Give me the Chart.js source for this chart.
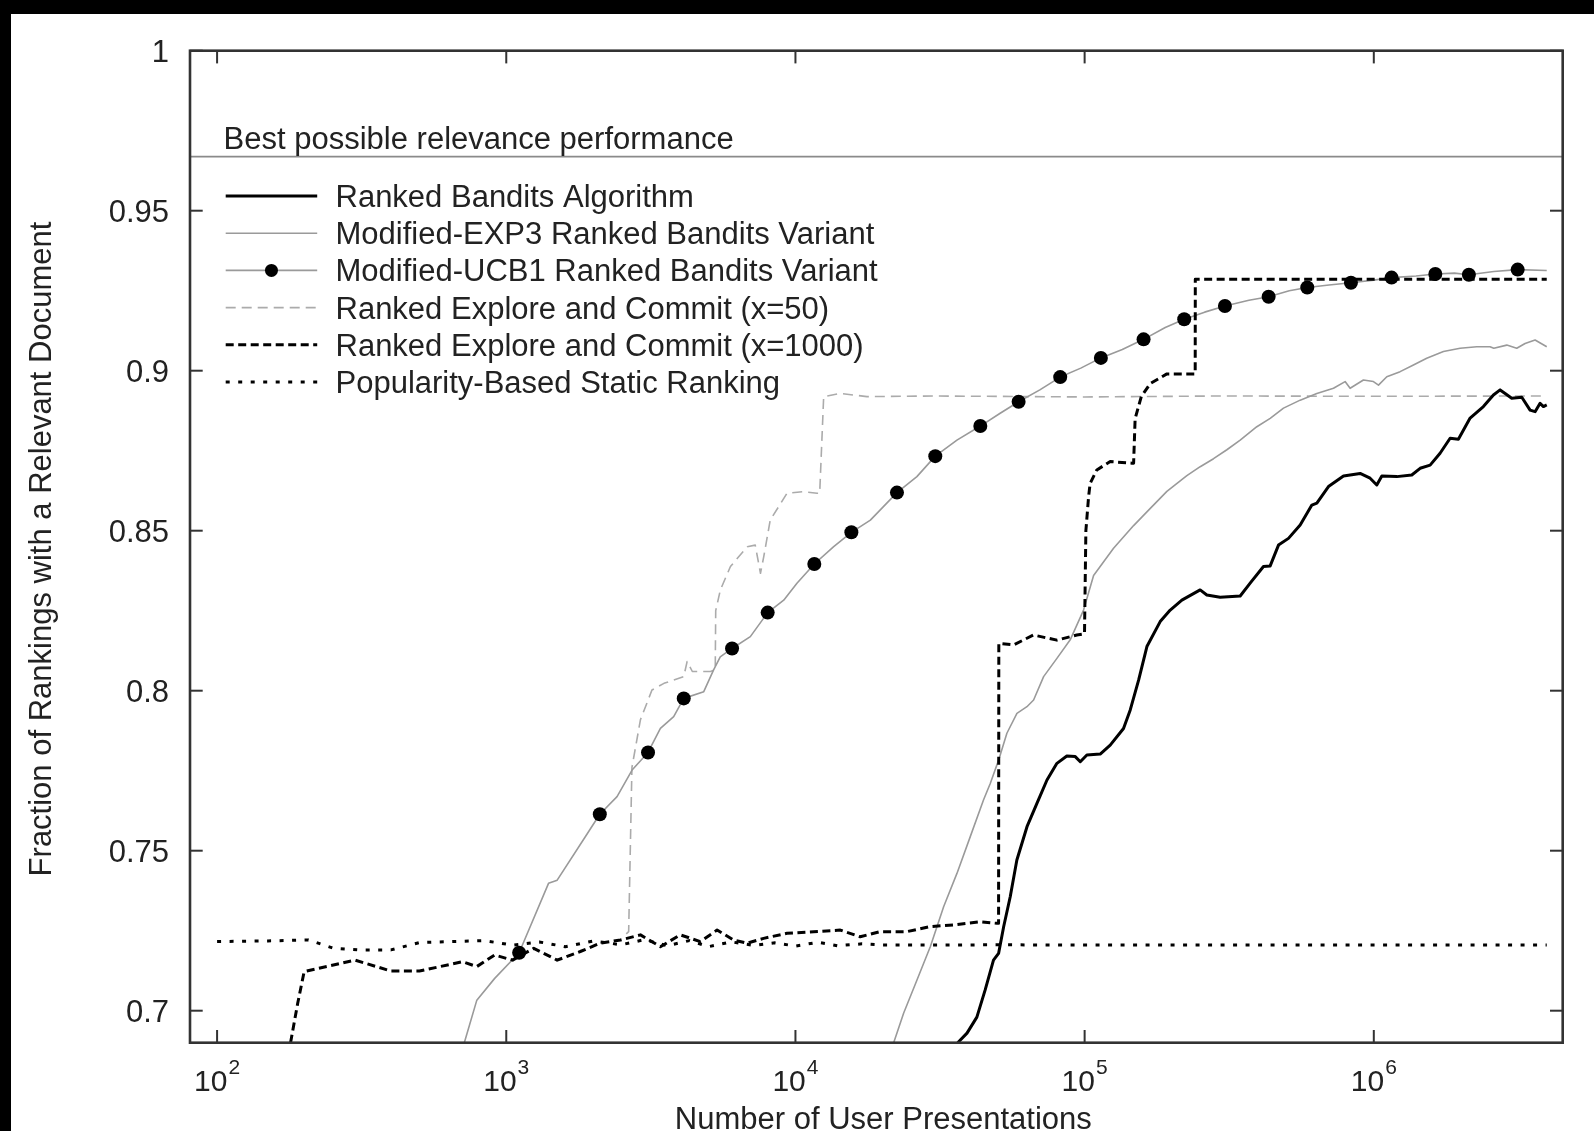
<!DOCTYPE html>
<html>
<head>
<meta charset="utf-8">
<script src="https://cdn.jsdelivr.net/npm/chart.js@4.4.1/dist/chart.umd.min.js"></script>
<style>
html,body{margin:0;padding:0;background:#000;overflow:hidden;width:1594px;height:1131px}
#c{position:absolute;left:11px;top:14px;background:#fff}
</style>
</head>
<body>
<canvas id="c" width="1583" height="1117"></canvas>
<script>
// axis ranges and ticks
const X_MIN=80.6, X_MAX=4.5e6, Y_MIN=0.69, Y_MAX=1.0;
const xTicks=[1e2,1e3,1e4,1e5,1e6];
const xExp=['2','3','4','5','6'];
const yTicks=[0.7,0.75,0.8,0.85,0.9,0.95,1];
const yTickLabels=['0.7','0.75','0.8','0.85','0.9','0.95','1'];
const BEST=0.9669;

const seriesNames=['Ranked Bandits Algorithm','Modified-EXP3 Ranked Bandits Variant','Modified-UCB1 Ranked Bandits Variant',
  'Ranked Explore and Commit (x=50)','Ranked Explore and Commit (x=1000)','Popularity-Based Static Ranking'];

// Ranked Bandits Algorithm
const rbX=[36400,39200,42400,45300,48400,50400,52500,55300,58300,63200,68400,74100,80200,86800,92800,96600,101800,113200,122600,136300,143800,153700,164200,182500,197700,216900,250900,264600,294200,345100,373600,415400,438200,468200,506900,556400,610600,635400,697000,785600,896700,971000,1024000,1066000,1201000,1353000,1446000,1566000,1695000,1836000,1961000,2153000,2393000,2592000,2734000,2845000,2999000,3249000,3471000,3612000,3758000,3860000,3963000];
const rbY=[0.690,0.693,0.698,0.7065,0.7158,0.7179,0.7263,0.7356,0.7471,0.7575,0.7648,0.7721,0.7773,0.7796,0.7794,0.7778,0.7799,0.7802,0.7830,0.7882,0.7940,0.8033,0.8138,0.8216,0.8252,0.8283,0.8315,0.8299,0.8292,0.8296,0.8336,0.8388,0.8390,0.8455,0.8476,0.8518,0.8580,0.8586,0.8638,0.8671,0.8679,0.8664,0.8643,0.8671,0.8669,0.8674,0.8695,0.8705,0.8742,0.8789,0.8786,0.8852,0.8888,0.8924,0.8940,0.8929,0.8914,0.8917,0.8877,0.8872,0.8898,0.8888,0.8893];

// Modified-EXP3
const exp3X=[21860,23660,26320,29260,32540,36180,40230,44730,47170,50410,53850,58330,63170,66610,72140,80200,89160,99150,107400,125900,147700,164200,192500,225700,251000,279100,310400,345100,394000,438200,487200,556400,635400,725400,795700,828100,920700,997000,1038000,1109000,1233000,1371000,1524000,1741000,1988000,2270000,2523000,2600000,2883000,3121000,3335000,3612000,3963000];
const exp3Y=[0.690,0.6992,0.7096,0.7200,0.7325,0.7429,0.7544,0.7659,0.7710,0.7783,0.7867,0.7929,0.7950,0.7971,0.8044,0.8101,0.8159,0.8252,0.8360,0.8445,0.8516,0.8559,0.8623,0.8672,0.8700,0.8725,0.8753,0.8783,0.8825,0.8851,0.8883,0.8908,0.8929,0.8945,0.8966,0.8945,0.8971,0.8966,0.8955,0.8981,0.8997,0.9018,0.9039,0.9060,0.9070,0.9075,0.9075,0.9070,0.9080,0.9070,0.9085,0.9096,0.9075];

// Modified-UCB1 line and its markers
const ucbX=[716,791,912,1108,1400,1500,1862,2106,2416,2723,3092,3412,3793,4109,4819,5212,5495,6037,6982,8017,9108,10120,11620,13560,15610,18160,22440,26300,30450,36180,43580,51050,59120,70000,82330,97000,113800,135000,159900,190000,221000,260000,305600,370000,432800,510000,588700,700000,833600,1000000,1152000,1400000,1632000,1900000,2132000,2600000,3144000,3963000];
const ucbY=[0.690,0.7033,0.7101,0.7181,0.7398,0.7408,0.7539,0.7614,0.7669,0.7752,0.7807,0.7882,0.7919,0.7976,0.7997,0.8065,0.8106,0.8132,0.8169,0.8244,0.8283,0.8336,0.8396,0.8450,0.8495,0.8533,0.8619,0.8669,0.8733,0.8783,0.8827,0.8867,0.8903,0.8940,0.8980,0.9008,0.9040,0.9066,0.9098,0.9135,0.9161,0.9183,0.9202,0.9220,0.9231,0.9250,0.9260,0.9268,0.9275,0.9283,0.9291,0.9296,0.9302,0.9305,0.9300,0.9310,0.9316,0.9313];
const ucbMarkX=[1108,2106,3092,4109,6037,8017,11620,15610,22440,30450,43580,59120,82330,113800,159900,221000,305600,432800,588700,833600,1152000,1632000,2132000,3144000];
const ucbMarkY=[0.7181,0.7614,0.7807,0.7976,0.8132,0.8244,0.8396,0.8495,0.8619,0.8733,0.8827,0.8903,0.8980,0.9040,0.9098,0.9161,0.9202,0.9231,0.9260,0.9275,0.9291,0.9302,0.9300,0.9316];

// Ranked Explore and Commit (x=50)
const ec50X=[2600,2650,2720,2910,3190,3510,4110,4220,4400,5080,5280,5300,5500,5960,6810,7260,7570,7770,8180,9350,10670,11880,12130,12520,14290,17660,30000,100000,300000,1000000,3963000];
const ec50Y=[0.7240,0.7247,0.7760,0.7909,0.8002,0.8023,0.8044,0.8091,0.8060,0.8060,0.8065,0.8250,0.8315,0.8388,0.8450,0.8455,0.8367,0.8419,0.8533,0.8617,0.8622,0.8617,0.8617,0.8919,0.8929,0.8919,0.8921,0.8918,0.8921,0.8920,0.8921];

// Ranked Explore and Commit (x=1000)
const ec1000X=[179.5,190,200,300,399,501,706,791,912,1052,1245,1500,1803,2113,2483,2911,3412,4000,4688,5358,6109,6808,7762,9354,11560,14290,16750,19630,24270,29240,35240,43550,49770,50400,50500,56750,66530,80170,93970,99900,101000,103200,104500,110200,122600,145700,147700,149500,157000,159800,168600,192500,234900,241200,241400,3963000];
const ec1000Y=[0.690,0.7023,0.7122,0.7158,0.7124,0.7124,0.7153,0.7138,0.7174,0.7158,0.7195,0.7158,0.7185,0.7211,0.7221,0.7237,0.7200,0.7237,0.7216,0.7252,0.7221,0.7211,0.7226,0.7242,0.7247,0.7252,0.7231,0.7247,0.7247,0.7263,0.7268,0.7278,0.7273,0.7273,0.8148,0.8143,0.8174,0.8158,0.8174,0.8178,0.8500,0.8606,0.8648,0.8690,0.8716,0.8711,0.8711,0.8850,0.8919,0.8929,0.8960,0.8990,0.8990,0.8990,0.9286,0.9286];

// Popularity-Based Static Ranking
const popX=[100,150,207,253,308,399,501,837,1052,1300,1600,2000,2500,3000,3600,4300,5000,6000,7200,8500,10000,12000,14000,17000,20000,30000,50000,100000,300000,1000000,3963000];
const popY=[0.7216,0.7218,0.7221,0.7195,0.7190,0.7190,0.7213,0.7219,0.7205,0.7215,0.7200,0.7218,0.7206,0.7222,0.7203,0.7219,0.7200,0.7215,0.7204,0.7212,0.7202,0.7214,0.7203,0.7209,0.7205,0.7205,0.7206,0.7205,0.7205,0.7205,0.7205];

const pts=(xs,ys)=>xs.map((v,i)=>({x:v,y:ys[i]}));
const FONT='"Liberation Sans", Arial, Helvetica, sans-serif';
const TXT='#222';

const styles=[
  {c:'#000',w:3,d:[]},
  {c:'#9a9a9a',w:1.6,d:[]},
  {c:'#9a9a9a',w:1.6,d:[],dot:true},
  {c:'#ababab',w:1.6,d:[10,6]},
  {c:'#000',w:3,d:[8,4.5]},
  {c:'#000',w:3,d:[4,8.5]},
];

const decor={
  id:'decor',
  afterDatasetsDraw(chart){
    const {ctx,chartArea:a,scales:{x,y}}=chart;
    ctx.save();
    // frame
    ctx.strokeStyle='#333';ctx.lineWidth=2.6;ctx.setLineDash([]);
    ctx.strokeRect(a.left,a.top,a.right-a.left,a.bottom-a.top);
    ctx.lineWidth=2;
    const seg=(x1,y1,x2,y2)=>{ctx.beginPath();ctx.moveTo(x1,y1);ctx.lineTo(x2,y2);ctx.stroke();};
    const TL=12.7;
    xTicks.forEach(v=>{const p=x.getPixelForValue(v);seg(p,a.bottom,p,a.bottom-TL);seg(p,a.top,p,a.top+TL);});
    yTicks.forEach(v=>{const p=y.getPixelForValue(v);seg(a.left,p,a.left+TL,p);seg(a.right,p,a.right-TL,p);});
    // y tick labels
    ctx.fillStyle=TXT;ctx.font='31px '+FONT;ctx.textAlign='right';ctx.textBaseline='alphabetic';
    yTicks.forEach((v,i)=>ctx.fillText(yTickLabels[i],a.left-21,y.getPixelForValue(v)+11));
    // x tick labels with superscript exponents
    ctx.textAlign='left';
    xTicks.forEach((v,i)=>{
      const p=x.getPixelForValue(v);
      ctx.font='30px '+FONT;const w1=ctx.measureText('10').width;
      ctx.font='21px '+FONT;const w2=ctx.measureText(xExp[i]).width;
      const s=p-(w1+w2+1)/2;
      ctx.font='30px '+FONT;ctx.fillText('10',s,a.bottom+48);
      ctx.font='21px '+FONT;ctx.fillText(xExp[i],s+w1+1,a.bottom+31.5);
    });
    // axis titles
    ctx.font='31px '+FONT;ctx.textAlign='center';
    ctx.fillText('Number of User Presentations',(a.left+a.right)/2+7,a.bottom+86);
    ctx.save();ctx.translate(31.7,535);ctx.rotate(-Math.PI/2);ctx.textBaseline='middle';
    ctx.fillText('Fraction of Rankings with a Relevant Document',0,0);ctx.restore();
    // best possible label
    ctx.textAlign='left';ctx.textBaseline='alphabetic';
    ctx.fillText('Best possible relevance performance',212.6,y.getPixelForValue(BEST)-8);
    // legend
    const lx1=214.7,lx2=306.2,tx=324.5;
    seriesNames.forEach((n,i)=>{
      const yy=182+37.2*i, st=styles[i];
      ctx.strokeStyle=st.c;ctx.lineWidth=st.w;ctx.setLineDash(st.d);
      seg(lx1,yy,lx2,yy);
      ctx.setLineDash([]);
      if(st.dot){ctx.fillStyle='#000';ctx.beginPath();ctx.arc((lx1+lx2)/2,yy,6.5,0,Math.PI*2);ctx.fill();}
      ctx.fillStyle=TXT;ctx.fillText(n,tx,yy+11);
    });
    ctx.restore();
  }
};

const lineDs=(label,xs,ys,i)=>({label,data:pts(xs,ys),borderColor:styles[i].c,borderWidth:styles[i].w,borderDash:styles[i].d,
  pointRadius:0,fill:false,tension:0,borderJoinStyle:'round',clip:0});

new Chart(document.getElementById('c'),{
  type:'line',
  data:{datasets:[
    {label:'UCB1 markers',data:pts(ucbMarkX,ucbMarkY),showLine:false,pointRadius:7,pointBackgroundColor:'#000',pointBorderWidth:0,borderColor:'#000'},
    lineDs(seriesNames[0],rbX,rbY,0),
    lineDs(seriesNames[4],ec1000X,ec1000Y,4),
    lineDs(seriesNames[5],popX,popY,5),
    lineDs(seriesNames[2],ucbX,ucbY,2),
    lineDs(seriesNames[1],exp3X,exp3Y,1),
    lineDs(seriesNames[3],ec50X,ec50Y,3),
    {label:'Best possible',data:[{x:X_MIN,y:BEST},{x:X_MAX,y:BEST}],borderColor:'#8a8a8a',borderWidth:1.6,pointRadius:0,tension:0},
  ]},
  options:{
    responsive:false,animation:false,
    layout:{padding:{left:179,top:36.7,right:31.3,bottom:88.3}},
    plugins:{legend:{display:false},tooltip:{enabled:false}},
    scales:{
      x:{type:'logarithmic',min:X_MIN,max:X_MAX,display:false},
      y:{type:'linear',min:Y_MIN,max:Y_MAX,display:false}
    }
  },
  plugins:[decor]
});
</script>
</body>
</html>
